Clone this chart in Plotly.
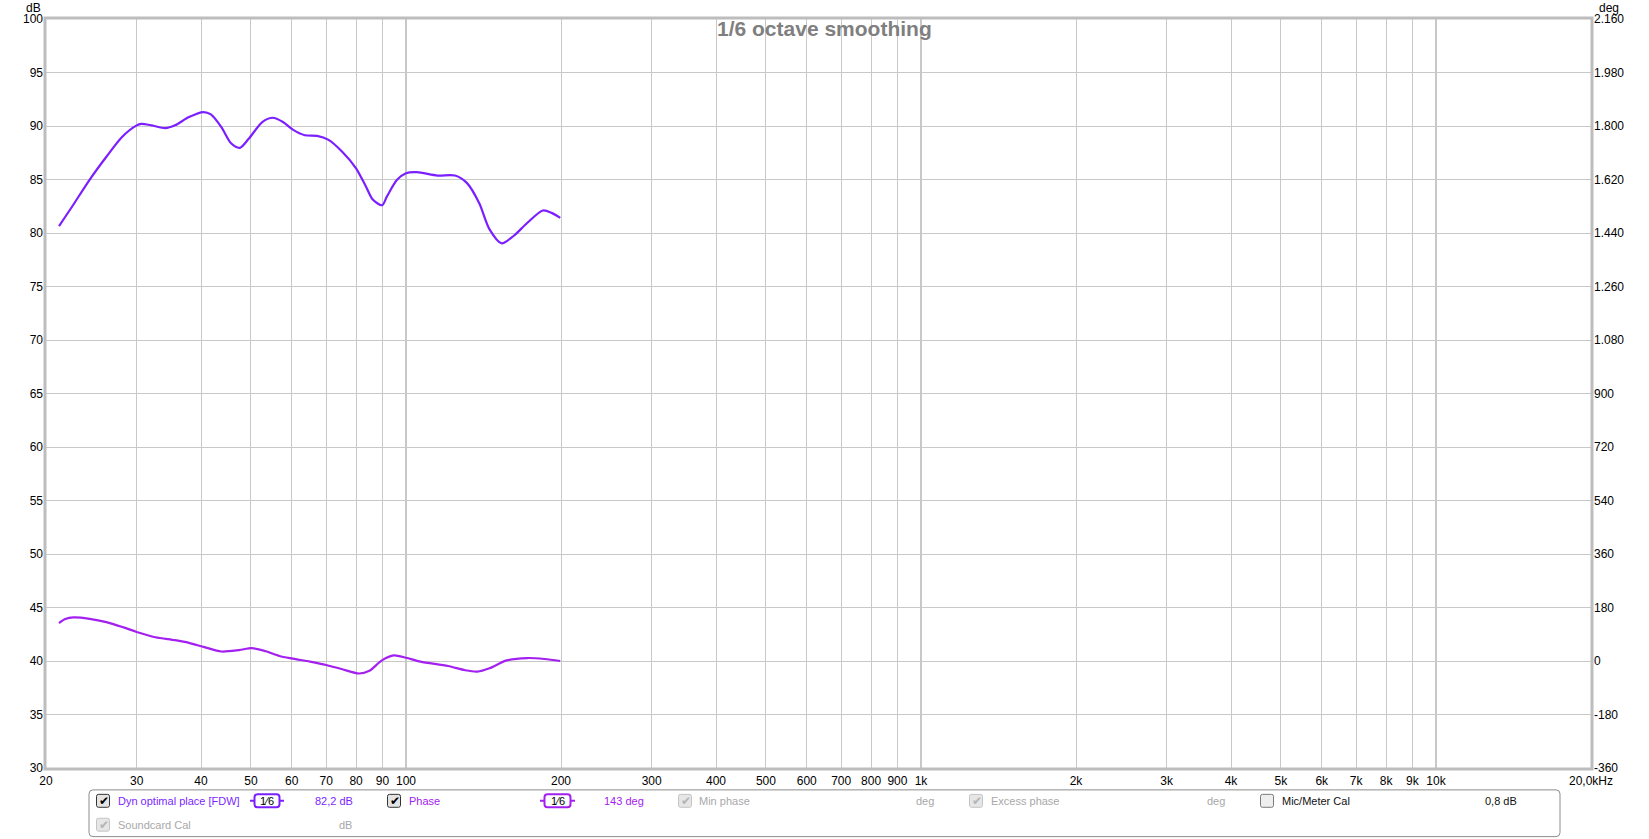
import plotly.graph_objects as go

# ---------------- data ----------------
freq_mag = [21.2, 22.5, 24.3, 26.2, 28.1, 30.0, 30.6, 32.1, 34.1, 35.6, 37.9, 40.4, 41.8, 43.8,
            45.8, 47.6, 49.5, 52.6, 55.1, 57.7, 60.3, 63.6, 67.2, 70.6, 75.2, 80.0, 83.6, 86.3,
            89.9, 91.8, 96.1, 100.0, 105.0, 115.2, 124.5, 131.4, 138.7, 145.3, 153.3, 161.8,
            172.1, 184.5, 191.8, 199.3]
mag_db = [80.65, 82.5, 84.97, 87.13, 88.98, 90.06, 90.2, 90.06, 89.8, 90.06, 90.83, 91.3, 91.08,
          89.9, 88.36, 87.96, 88.8, 90.37, 90.77, 90.37, 89.66, 89.14, 89.07, 88.73, 87.6, 86.05,
          84.35, 83.1, 82.6, 83.4, 84.97, 85.59, 85.68, 85.37, 85.37, 84.66, 82.8, 80.34, 79.04,
          79.72, 80.96, 82.1, 81.88, 81.42]

freq_phase = [21.2, 21.8, 22.6, 24.3, 26.2, 28.3, 30.0, 32.6, 35.6, 37.9, 40.6, 43.8, 47.4, 50.2,
              53.4, 56.8, 60.3, 65.1, 70.0, 75.2, 81.1, 84.9, 89.8, 94.7, 100.0, 106.7, 120.7,
              130.3, 137.6, 145.3, 156.9, 172.1, 185.9, 199.3]
phase_deg = [127.8, 141, 146.7, 142, 131, 113, 97.8, 80, 70, 61, 46.7, 32, 36.7, 43.3,
             33, 16.7, 7.8, -2.2, -13.3, -27.8, -42, -33, 2.2, 18.9, 11, -2.2, -16.7,
             -31, -35.6, -24.4, 2.2, 10, 6.7, 0]

x_tickvals = [20, 30, 40, 50, 60, 70, 80, 90, 100, 200, 300, 400, 500, 600, 700, 800, 900,
              1000, 2000, 3000, 4000, 5000, 6000, 7000, 8000, 9000, 10000, 20000]
x_ticktext = ["20", "30", "40", "50", "60", "70", "80", "90", "100", "200", "300", "400", "500",
              "600", "700", "800", "900", "1k", "2k", "3k", "4k", "5k", "6k", "7k", "8k", "9k",
              "10k", "20,0kHz"]
x_major = [100, 1000, 10000]

db_ticks = list(range(30, 101, 5))
deg_ticks = list(range(-360, 2161, 180))
deg_ticktext = ["-360", "-180", "0", "180", "360", "540", "720", "900", "1.080", "1.260",
                "1.440", "1.620", "1.800", "1.980", "2.160"]

MAG_COLOR = "rgb(123,31,255)"
PHASE_COLOR = "rgb(163,32,240)"

# ---------------- geometry helpers ----------------
W_PX, H_PX = 1649, 839
L, R, T, B = 46, 1591, 15, 768


def px(x):
    return (x - L) / (R - L)


def py(y):
    return (B - y) / (B - T)


def rounded_rect(x0, y0, x1, y1, r):
    rx = r / (R - L)
    ry = r / (B - T)
    a0, a1 = px(x0), px(x1)
    b0, b1 = py(y0), py(y1)  # b0 top (bigger), b1 bottom
    return (f"M {a0+rx} {b0} L {a1-rx} {b0} Q {a1} {b0} {a1} {b0-ry} "
            f"L {a1} {b1+ry} Q {a1} {b1} {a1-rx} {b1} L {a0+rx} {b1} "
            f"Q {a0} {b1} {a0} {b1+ry} L {a0} {b0-ry} Q {a0} {b0} {a0+rx} {b0} Z")


FONT = "Liberation Sans, Arial, sans-serif"

fig = go.Figure()
fig.add_trace(go.Scatter(x=freq_mag, y=mag_db, mode="lines",
                         line=dict(color=MAG_COLOR, width=2.2, shape="spline", smoothing=0.8),
                         name="Dyn optimal place [FDW]", hoverinfo="skip"))
fig.add_trace(go.Scatter(x=freq_phase, y=phase_deg, mode="lines", yaxis="y2",
                         line=dict(color=PHASE_COLOR, width=2.2, shape="spline", smoothing=0.8),
                         name="Phase", hoverinfo="skip"))

shapes = []
# darker decade lines
for xv in x_major:
    shapes.append(dict(type="line", xref="x", yref="paper", x0=xv, x1=xv, y0=0, y1=1,
                       line=dict(color="#8a8a8a", width=1), layer="below"))
# plot frame
shapes.append(dict(type="rect", xref="paper", yref="paper", x0=px(L - 1), x1=px(R + 1),
                   y0=py(B + 1), y1=py(T - 1), line=dict(color="#bdbdbd", width=3)))
# legend box
shapes.append(dict(type="path", xref="paper", yref="paper",
                   path=rounded_rect(89, 790, 1560, 837, 4),
                   line=dict(color="#8c8c8c", width=1), fillcolor="rgba(0,0,0,0)"))

annotations = []


def text(x, y, s, color="#000", size=11, anchor="left", bold=False):
    annotations.append(dict(xref="paper", yref="paper", x=px(x), y=py(y), text=s,
                            showarrow=False, xanchor=anchor, yanchor="middle",
                            font=dict(family=FONT, size=size, color=color)))


def checkbox(cx, cy, state):
    s = 6.5
    if state == "on":
        border, fill, chk = "#333333", "#e4e4e4", "#000000"
    elif state == "dis":
        border, fill, chk = "#c4c4c4", "#e6e6e6", "#b4b4b4"
    else:
        border, fill, chk = "#7a7a7a", "#eeeeee", None
    shapes.append(dict(type="path", xref="paper", yref="paper",
                       path=rounded_rect(cx - s, cy - s, cx + s, cy + s, 2),
                       line=dict(color=border, width=1), fillcolor=fill))
    if chk:
        text(cx + 0.5, cy, "✔", color=chk, size=12, anchor="center")


def badge(x0, x1, cy, color):
    shapes.append(dict(type="line", xref="paper", yref="paper", x0=px(x0), x1=px(x1),
                       y0=py(cy), y1=py(cy), line=dict(color=color, width=2)))
    shapes.append(dict(type="path", xref="paper", yref="paper",
                       path=rounded_rect(x0 + 4.5, cy - 6.5, x1 - 4.5, cy + 6.5, 3),
                       line=dict(color=color, width=2), fillcolor="white"))
    text((x0 + x1) / 2, cy, "1⁄6", color="#000", size=11, anchor="center")


ROW1, ROW2 = 801, 825
GRAY = "#a8a8a8"
checkbox(103, ROW1, "on")
text(116, ROW1, "Dyn optimal place [FDW]", MAG_COLOR)
badge(250, 284, ROW1, MAG_COLOR)
text(313, ROW1, "82,2 dB", MAG_COLOR)
checkbox(394, ROW1, "on")
text(407, ROW1, "Phase", PHASE_COLOR)
badge(540, 575, ROW1, PHASE_COLOR)
text(602, ROW1, "143 deg", PHASE_COLOR)
checkbox(685, ROW1, "dis")
text(697, ROW1, "Min phase", GRAY)
text(914, ROW1, "deg", GRAY)
checkbox(976, ROW1, "dis")
text(989, ROW1, "Excess phase", GRAY)
text(1205, ROW1, "deg", GRAY)
checkbox(1267, ROW1, "off")
text(1280, ROW1, "Mic/Meter Cal", "#111")
text(1483, ROW1, "0,8 dB", "#111")
checkbox(103, ROW2, "dis")
text(116, ROW2, "Soundcard Cal", GRAY)
text(337, ROW2, "dB", GRAY)

# title and axis unit labels
annotations.append(dict(xref="paper", yref="paper", x=px(824), y=py(25), text="<b>1/6 octave smoothing</b>",
                        showarrow=False, xanchor="center", yanchor="middle",
                        font=dict(family=FONT, size=21, color="#7f7f7f")))
text(33, 3.5, "dB", "#000", 12, "center")
text(1609, 3.5, "deg", "#000", 12, "center")

fig.update_layout(
    width=W_PX, height=H_PX,
    margin=dict(l=L, r=W_PX - R, t=T, b=H_PX - B),
    paper_bgcolor="white", plot_bgcolor="white",
    showlegend=False,
    font=dict(family=FONT, size=12, color="#000"),
    xaxis=dict(type="log", range=[1.30103, 4.30103], tickvals=x_tickvals, ticktext=x_ticktext,
               showgrid=True, gridcolor="#c8c8c8", gridwidth=1, zeroline=False, ticks="",
               showline=False, tickfont=dict(size=12), fixedrange=True, ticklabelstandoff=4),
    yaxis=dict(range=[30, 100], tickvals=db_ticks, showgrid=True, gridcolor="#c8c8c8",
               zeroline=False, ticks="", showline=False, tickfont=dict(size=12),
               fixedrange=True, ticklabelstandoff=2),
    yaxis2=dict(range=[-360, 2160], overlaying="y", side="right", tickvals=deg_ticks,
                ticktext=deg_ticktext, showgrid=False, zeroline=False, ticks="",
                showline=False, tickfont=dict(size=12), fixedrange=True, ticklabelstandoff=2),
    shapes=shapes,
    annotations=annotations,
)

fig.write_html("out.html", config={"displayModeBar": False},
               post_script="document.body.style.margin='0';document.body.style.overflow='hidden';")
